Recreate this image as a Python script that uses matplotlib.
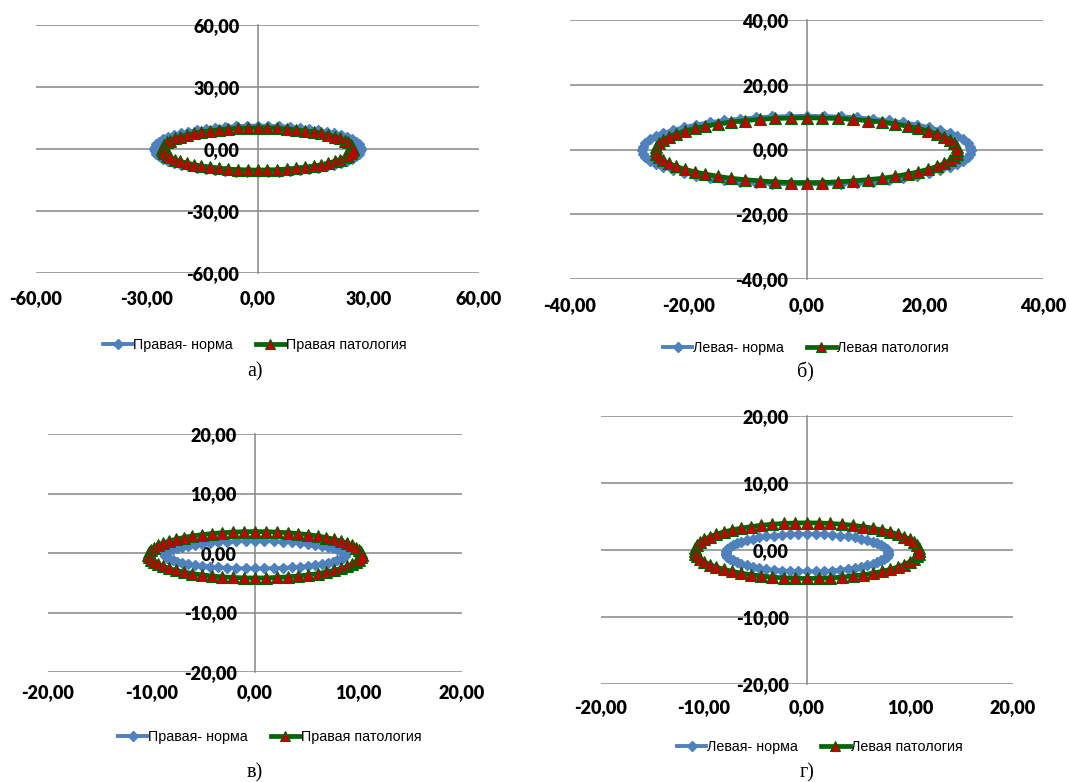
import matplotlib.pyplot as plt

# ---- data ----
ticks_a = [-60, -30, 0, 30, 60]
labels_a = ['-60,00', '-30,00', '0,00', '30,00', '60,00']
ticks_b = [-40, -20, 0, 20, 40]
labels_b = ['-40,00', '-20,00', '0,00', '20,00', '40,00']
ticks_cd = [-20, -10, 0, 10, 20]
labels_cd = ['-20,00', '-10,00', '0,00', '10,00', '20,00']

names_right = ['Правая- норма', 'Правая патология']
names_left = ['Левая- норма', 'Левая патология']

# а) правая
a_norm_x = [28.0, 27.8, 27.4, 26.6, 25.6, 24.2, 22.7, 20.8, 18.7, 16.5, 14.0, 11.4, 8.7, 5.8, 2.9, 0.0,
            -2.9, -5.8, -8.7, -11.4, -14.0, -16.5, -18.7, -20.8, -22.7, -24.2, -25.6, -26.6, -27.4, -27.8, -28.0,
            -27.8, -27.4, -26.6, -25.6, -24.2, -22.7, -20.8, -18.7, -16.5, -14.0, -11.4, -8.7, -5.8, -2.9, 0.0,
            2.9, 5.8, 8.7, 11.4, 14.0, 16.5, 18.7, 20.8, 22.7, 24.2, 25.6, 26.6, 27.4, 27.8, 28.0]
a_norm_y = [0.0, 1.2, 2.3, 3.5, 4.6, 5.7, 6.6, 7.6, 8.4, 9.1, 9.8, 10.3, 10.7, 11.1, 11.2, 11.3,
            11.2, 11.1, 10.7, 10.3, 9.8, 9.1, 8.4, 7.6, 6.6, 5.7, 4.6, 3.5, 2.3, 1.2, 0.0,
            -1.2, -2.3, -3.5, -4.6, -5.7, -6.6, -7.6, -8.4, -9.1, -9.8, -10.3, -10.7, -11.1, -11.2, -11.3,
            -11.2, -11.1, -10.7, -10.3, -9.8, -9.1, -8.4, -7.6, -6.6, -5.7, -4.6, -3.5, -2.3, -1.2, 0.0]
a_pat_x = [25.8, 25.7, 25.2, 24.5, 23.6, 22.3, 20.9, 19.2, 17.3, 15.2, 12.9, 10.5, 8.0, 5.4, 2.7, 0.0,
           -2.7, -5.4, -8.0, -10.5, -12.9, -15.2, -17.3, -19.2, -20.9, -22.3, -23.6, -24.5, -25.2, -25.7, -25.8,
           -25.7, -25.2, -24.5, -23.6, -22.3, -20.9, -19.2, -17.3, -15.2, -12.9, -10.5, -8.0, -5.4, -2.7, 0.0,
           2.7, 5.4, 8.0, 10.5, 12.9, 15.2, 17.3, 19.2, 20.9, 22.3, 23.6, 24.5, 25.2, 25.7, 25.8]
a_pat_y = [0.0, 1.1, 2.1, 3.2, 4.1, 5.1, 6.0, 6.8, 7.6, 8.3, 8.8, 9.3, 9.7, 10.0, 10.1, 10.2,
           10.1, 10.0, 9.7, 9.3, 8.8, 8.3, 7.6, 6.8, 6.0, 5.1, 4.1, 3.2, 2.1, 1.1, 0.0,
           -1.1, -2.1, -3.2, -4.1, -5.1, -6.0, -6.8, -7.6, -8.3, -8.8, -9.3, -9.7, -10.0, -10.1, -10.2,
           -10.1, -10.0, -9.7, -9.3, -8.8, -8.3, -7.6, -6.8, -6.0, -5.1, -4.1, -3.2, -2.1, -1.1, 0.0]

# б) левая
b_norm_x = [27.9, 27.7, 27.3, 26.5, 25.5, 24.2, 22.6, 20.7, 18.7, 16.4, 13.9, 11.3, 8.6, 5.8, 2.9, 0.0,
            -2.9, -5.8, -8.6, -11.3, -13.9, -16.4, -18.7, -20.7, -22.6, -24.2, -25.5, -26.5, -27.3, -27.7, -27.9,
            -27.7, -27.3, -26.5, -25.5, -24.2, -22.6, -20.7, -18.7, -16.4, -13.9, -11.3, -8.6, -5.8, -2.9, 0.0,
            2.9, 5.8, 8.6, 11.3, 13.9, 16.4, 18.7, 20.7, 22.6, 24.2, 25.5, 26.5, 27.3, 27.7, 27.9]
b_norm_y = [-0.2, 0.9, 2.0, 3.1, 4.1, 5.1, 6.0, 6.9, 7.7, 8.4, 9.0, 9.5, 9.9, 10.2, 10.3, 10.4,
            10.3, 10.2, 9.9, 9.5, 9.0, 8.4, 7.7, 6.9, 6.0, 5.1, 4.1, 3.1, 2.0, 0.9, -0.2,
            -1.3, -2.4, -3.5, -4.5, -5.5, -6.4, -7.3, -8.1, -8.8, -9.4, -9.9, -10.3, -10.6, -10.7, -10.8,
            -10.7, -10.6, -10.3, -9.9, -9.4, -8.8, -8.1, -7.3, -6.4, -5.5, -4.5, -3.5, -2.4, -1.3, -0.2]
b_pat_x = [25.5, 25.4, 24.9, 24.3, 23.3, 22.1, 20.6, 18.9, 17.1, 15.0, 12.8, 10.4, 7.9, 5.3, 2.7, 0.0,
           -2.7, -5.3, -7.9, -10.4, -12.8, -15.0, -17.1, -18.9, -20.6, -22.1, -23.3, -24.3, -24.9, -25.4, -25.5,
           -25.4, -24.9, -24.3, -23.3, -22.1, -20.6, -18.9, -17.1, -15.0, -12.8, -10.4, -7.9, -5.3, -2.7, 0.0,
           2.7, 5.3, 7.9, 10.4, 12.8, 15.0, 17.1, 18.9, 20.6, 22.1, 23.3, 24.3, 24.9, 25.4, 25.5]
b_pat_y = [-0.2, 0.9, 1.9, 2.9, 3.9, 4.8, 5.7, 6.5, 7.2, 7.9, 8.5, 8.9, 9.3, 9.6, 9.7, 9.8,
           9.7, 9.6, 9.3, 8.9, 8.5, 7.9, 7.2, 6.5, 5.7, 4.8, 3.9, 2.9, 1.9, 0.9, -0.2,
           -1.3, -2.3, -3.3, -4.3, -5.2, -6.1, -6.9, -7.6, -8.3, -8.9, -9.3, -9.7, -10.0, -10.2, -10.2,
           -10.2, -10.0, -9.7, -9.3, -8.9, -8.3, -7.6, -6.9, -6.1, -5.2, -4.3, -3.3, -2.3, -1.3, -0.2]

# в) правая
c_norm_x = [8.70, 8.65, 8.51, 8.27, 7.95, 7.53, 7.04, 6.46, 5.82, 5.11, 4.35, 3.54, 2.69, 1.81, 0.91, 0.00,
            -0.91, -1.81, -2.69, -3.54, -4.35, -5.11, -5.82, -6.46, -7.04, -7.53, -7.95, -8.27, -8.51, -8.65, -8.70,
            -8.65, -8.51, -8.27, -7.95, -7.53, -7.04, -6.46, -5.82, -5.11, -4.35, -3.54, -2.69, -1.81, -0.91, 0.00,
            0.91, 1.81, 2.69, 3.54, 4.35, 5.11, 5.82, 6.46, 7.04, 7.53, 7.95, 8.27, 8.51, 8.65, 8.70]
c_norm_y = [-0.30, -0.06, 0.18, 0.41, 0.64, 0.85, 1.05, 1.24, 1.41, 1.56, 1.69, 1.80, 1.89, 1.95, 1.99, 2.00,
            1.99, 1.95, 1.89, 1.80, 1.69, 1.56, 1.41, 1.24, 1.05, 0.85, 0.64, 0.41, 0.18, -0.06, -0.30,
            -0.54, -0.78, -1.01, -1.24, -1.45, -1.65, -1.84, -2.01, -2.16, -2.29, -2.40, -2.49, -2.55, -2.59, -2.60,
            -2.59, -2.55, -2.49, -2.40, -2.29, -2.16, -2.01, -1.84, -1.65, -1.45, -1.24, -1.01, -0.78, -0.54, -0.30]
c_pat_x = [10.30, 10.24, 10.07, 9.80, 9.41, 8.92, 8.33, 7.65, 6.89, 6.05, 5.15, 4.19, 3.18, 2.14, 1.08, 0.00,
           -1.08, -2.14, -3.18, -4.19, -5.15, -6.05, -6.89, -7.65, -8.33, -8.92, -9.41, -9.80, -10.07, -10.24, -10.30,
           -10.24, -10.07, -9.80, -9.41, -8.92, -8.33, -7.65, -6.89, -6.05, -5.15, -4.19, -3.18, -2.14, -1.08, 0.00,
           1.08, 2.14, 3.18, 4.19, 5.15, 6.05, 6.89, 7.65, 8.33, 8.92, 9.41, 9.80, 10.07, 10.24, 10.30]
c_pat_y = [-0.30, 0.11, 0.51, 0.91, 1.29, 1.65, 1.99, 2.31, 2.60, 2.86, 3.08, 3.26, 3.41, 3.51, 3.58, 3.60,
           3.58, 3.51, 3.41, 3.26, 3.08, 2.86, 2.60, 2.31, 1.99, 1.65, 1.29, 0.91, 0.51, 0.11, -0.30,
           -0.71, -1.11, -1.51, -1.89, -2.25, -2.59, -2.91, -3.20, -3.46, -3.68, -3.86, -4.01, -4.11, -4.18, -4.20,
           -4.18, -4.11, -4.01, -3.86, -3.68, -3.46, -3.20, -2.91, -2.59, -2.25, -1.89, -1.51, -1.11, -0.71, -0.30]

# г) левая
d_norm_x = [7.90, 7.86, 7.73, 7.51, 7.22, 6.84, 6.39, 5.87, 5.29, 4.64, 3.95, 3.21, 2.44, 1.64, 0.83, 0.00,
            -0.83, -1.64, -2.44, -3.21, -3.95, -4.64, -5.29, -5.87, -6.39, -6.84, -7.22, -7.51, -7.73, -7.86, -7.90,
            -7.86, -7.73, -7.51, -7.22, -6.84, -6.39, -5.87, -5.29, -4.64, -3.95, -3.21, -2.44, -1.64, -0.83, 0.00,
            0.83, 1.64, 2.44, 3.21, 3.95, 4.64, 5.29, 5.87, 6.39, 6.84, 7.22, 7.51, 7.73, 7.86, 7.90]
d_norm_y = [-0.40, -0.11, 0.18, 0.47, 0.74, 1.00, 1.25, 1.47, 1.68, 1.87, 2.02, 2.16, 2.26, 2.34, 2.38, 2.40,
            2.38, 2.34, 2.26, 2.16, 2.02, 1.87, 1.68, 1.47, 1.25, 1.00, 0.74, 0.47, 0.18, -0.11, -0.40,
            -0.69, -0.98, -1.27, -1.54, -1.80, -2.05, -2.27, -2.48, -2.67, -2.82, -2.96, -3.06, -3.14, -3.18, -3.20,
            -3.18, -3.14, -3.06, -2.96, -2.82, -2.67, -2.48, -2.27, -2.05, -1.80, -1.54, -1.27, -0.98, -0.69, -0.40]
d_pat_x = [10.90, 10.84, 10.66, 10.37, 9.96, 9.44, 8.82, 8.10, 7.29, 6.41, 5.45, 4.43, 3.37, 2.27, 1.14, 0.00,
           -1.14, -2.27, -3.37, -4.43, -5.45, -6.41, -7.29, -8.10, -8.82, -9.44, -9.96, -10.37, -10.66, -10.84, -10.90,
           -10.84, -10.66, -10.37, -9.96, -9.44, -8.82, -8.10, -7.29, -6.41, -5.45, -4.43, -3.37, -2.27, -1.14, 0.00,
           1.14, 2.27, 3.37, 4.43, 5.45, 6.41, 7.29, 8.10, 8.82, 9.44, 9.96, 10.37, 10.66, 10.84, 10.90]
d_pat_y = [-0.10, 0.33, 0.76, 1.18, 1.59, 1.98, 2.34, 2.68, 2.98, 3.26, 3.49, 3.69, 3.85, 3.96, 4.03, 4.05,
           4.03, 3.96, 3.85, 3.69, 3.49, 3.26, 2.98, 2.68, 2.34, 1.98, 1.59, 1.18, 0.76, 0.33, -0.10,
           -0.53, -0.96, -1.38, -1.79, -2.18, -2.54, -2.88, -3.18, -3.46, -3.69, -3.89, -4.05, -4.16, -4.23, -4.25,
           -4.23, -4.16, -4.05, -3.89, -3.69, -3.46, -3.18, -2.88, -2.54, -2.18, -1.79, -1.38, -0.96, -0.53, -0.10]

BLUE = '#4F81BD'
GREEN = '#006400'
RED = '#C00000'
GRID = '#868686'

plt.rcParams['font.family'] = ['Lato', 'DejaVu Sans']

W, H = 1069, 782
fig = plt.figure(figsize=(W / 100, H / 100), dpi=100)


def px_rect(l, r, t, b):
    return [l / W, 1 - b / H, (r - l) / W, (b - t) / H]


def draw_panel(rect, ticks, labels, norm_x, norm_y, pat_x, pat_y, names, xpad, leg_xy, cap, cap_xy):
    ax = fig.add_axes(px_rect(*rect))
    ax.plot(norm_x, norm_y, color=BLUE, lw=2.8, marker='D', ms=5.5,
            mfc=BLUE, mec=BLUE, label=names[0], zorder=3)
    ax.plot(pat_x, pat_y, color=GREEN, lw=3.4, marker='^', ms=8.8,
            mfc=RED, mec=GREEN, mew=0.8, label=names[1], zorder=4)

    ax.set_xlim(ticks[0], ticks[-1])
    ax.set_ylim(ticks[0], ticks[-1])
    ax.set_xticks(ticks)
    ax.set_xticklabels(labels)
    ax.set_yticks(ticks)
    ax.set_yticklabels(labels)
    ax.grid(axis='y', color=GRID, lw=1.1)
    ax.grid(axis='x', visible=False)

    ax.spines['left'].set_position(('data', 0))
    ax.spines['left'].set_color(GRID)
    ax.spines['left'].set_linewidth(1.1)
    for s in ['top', 'right', 'bottom']:
        ax.spines[s].set_visible(False)
    ax.tick_params(axis='x', length=0, pad=xpad, labelsize=13)
    ax.tick_params(axis='y', length=0, pad=13, labelsize=13)
    for t in ax.get_xticklabels() + ax.get_yticklabels():
        t.set_fontweight('heavy')

    leg = ax.legend(loc='center', bbox_to_anchor=(leg_xy[0] / W, 1 - leg_xy[1] / H),
                    bbox_transform=fig.transFigure, ncol=2, frameon=False,
                    prop={'family': 'Liberation Sans', 'size': 10.3},
                    handlelength=2.0, handletextpad=0.1, columnspacing=1.6)
    for h in leg.legend_handles:
        h.set_markersize(5 if h.get_marker() == 'D' else 6.5)
    fig.text(cap_xy[0] / W, 1 - cap_xy[1] / H, cap, family='Liberation Serif',
             fontsize=14.5, ha='center', va='center')
    return ax


draw_panel((36, 479, 25, 273), ticks_a, labels_a, a_norm_x, a_norm_y, a_pat_x, a_pat_y,
           names_right, 12.5, (255, 345), 'а)', (255, 372))
draw_panel((570, 1043, 20, 279), ticks_b, labels_b, b_norm_x, b_norm_y, b_pat_x, b_pat_y,
           names_left, 13.2, (806, 348), 'б)', (805, 372))
draw_panel((48, 462, 434, 672), ticks_cd, labels_cd, c_norm_x, c_norm_y, c_pat_x, c_pat_y,
           names_right, 8.9, (270, 737), 'в)', (255, 773))
draw_panel((601, 1013, 416, 684), ticks_cd, labels_cd, d_norm_x, d_norm_y, d_pat_x, d_pat_y,
           names_left, 11, (820, 747), 'г)', (807, 773))

fig.savefig('out.png', dpi=100, facecolor='white')
